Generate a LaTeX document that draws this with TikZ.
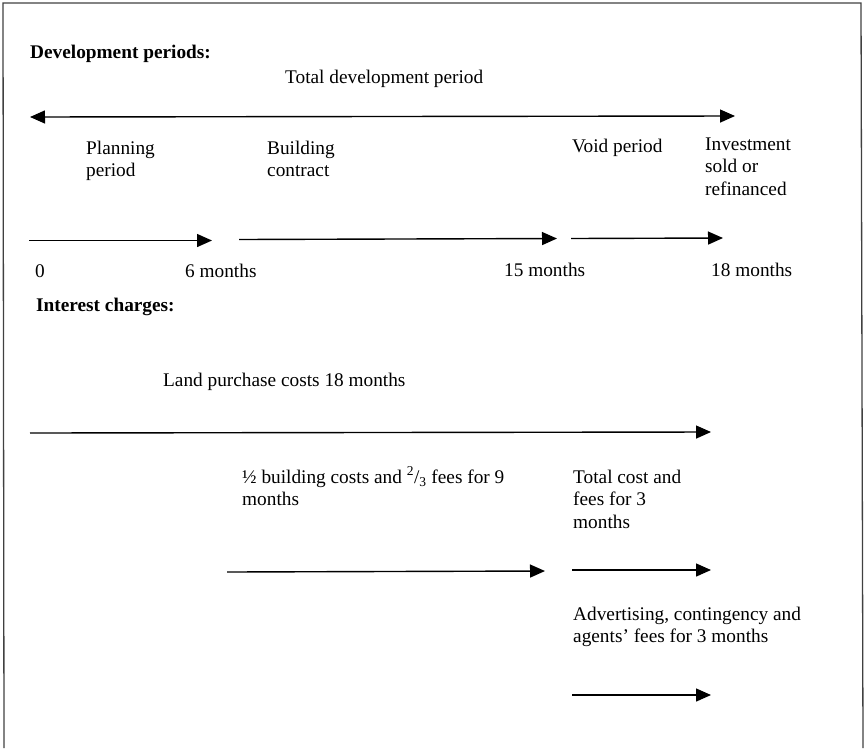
\documentclass[tikz,border=0pt]{standalone}
\usepackage{fontspec}
\setmainfont{Liberation Serif}
\usetikzlibrary{arrows.meta}
\begin{document}
\begin{tikzpicture}[x=1pt,y=-1pt,
  % multi-line texts are placed by the baseline of their last line
  txt/.style={anchor=base west,inner sep=0pt,align=left,
    font=\fontsize{19.3}{22.6}\selectfont},
  head/.style={txt,font=\fontsize{19.3}{22.6}\selectfont\bfseries},
  frameline/.style={line width=1.3pt,draw=black!75},
  period/.style={line width=1.4pt,-{Triangle[length=15pt,width=13pt]}},
  both/.style={line width=1.4pt,{Triangle[length=15pt,width=13pt]}-{Triangle[length=15pt,width=13pt]}}]
\useasboundingbox (0,0) rectangle (867,748);

% open frame: top, left and right sides
\coordinate (fbl) at (4,748);
\coordinate (ftl) at (3,3);
\coordinate (ftr) at (861,3);
\coordinate (fbr) at (863,748);
\draw[frameline] (fbl) -- (ftl) -- (ftr) -- (fbr);

% ---- development periods ----
\node[head] (devhead) at (30,58) {Development periods:};
\node[txt] (total) at (285,83) {Total development period};
\coordinate (tL) at (30,117);
\coordinate (tR) at (735,116);
\draw[both] (tL) -- (tR);

\node[txt] (plan) at (86,176.6) {Planning\\period};
\node[txt] (build) at (267,176.6) {Building\\contract};
\node[txt] (void) at (572,152) {Void period};
\node[txt] (invest) at (705,195.2) {Investment\\sold or\\refinanced};

\coordinate (p0) at (29,240.5);
\coordinate (p6) at (212,240.5);
\coordinate (b0) at (239,239.5);
\coordinate (b15) at (557,238.5);
\coordinate (v0) at (571,238.5);
\coordinate (v18) at (723,238);
\draw[period] (p0) -- (p6);
\draw[period] (b0) -- (b15);
\draw[period] (v0) -- (v18);

\node[txt] (m0) at (35,277) {0};
\node[txt] (m6) at (185,277) {6 months};
\node[txt] (m15) at (504,276) {15 months};
\node[txt] (m18) at (711,276) {18 months};

% ---- interest charges ----
\node[head] (inthead) at (36,311) {Interest charges:};
\node[txt] (land) at (163,386) {Land purchase costs 18 months};
\coordinate (l0) at (30,433);
\coordinate (l1) at (711,432);
\draw[period] (l0) -- (l1);

\node[txt] (half) at (242,505.6) {½ building costs and \textsuperscript{2}/\textsubscript{3} fees for 9\\months};
\coordinate (h0) at (227,572);
\coordinate (h1) at (545,571);
\draw[period] (h0) -- (h1);

\node[txt] (tcost) at (573,528.2) {Total cost and\\fees for 3\\months};
\coordinate (c0) at (572,570);
\coordinate (c1) at (711,570);
\draw[period] (c0) -- (c1);

\node[txt] (adv) at (573,642.6) {Advertising, contingency and\\agents’ fees for 3 months};
\coordinate (a0) at (572,695);
\coordinate (a1) at (711,695);
\draw[period] (a0) -- (a1);
\end{tikzpicture}
\end{document}
